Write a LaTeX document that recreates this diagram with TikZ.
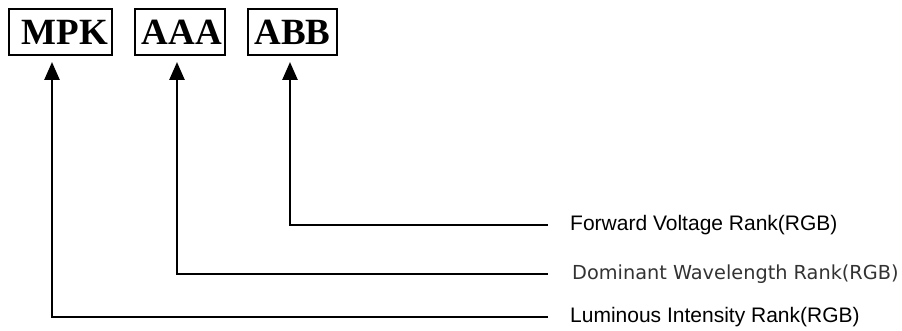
\documentclass[tikz,border=0pt]{standalone}
\usepackage{fontspec}
\setmainfont{Liberation Serif}
\setsansfont{Liberation Sans}
\newfontfamily\dejavu{DejaVu Sans}
\usetikzlibrary{arrows.meta}

\tikzset{
    rankbox/.style={draw, line width=2pt, minimum height=46pt, inner sep=0pt,
        font=\fontsize{37}{37}\selectfont\bfseries},
    ranklabel/.style={anchor=west, inner sep=0pt, font=\sffamily\fontsize{21}{21}\selectfont},
    rankarrow/.style={line width=2.6pt, -{Triangle[width=15pt,length=18pt]}}
}

\begin{document}
\begin{tikzpicture}[x=1pt, y=-1pt]

    \useasboundingbox (0,0) rectangle (902,331);

    \node[rankbox, minimum width=103pt] (mpk) at (60,32) {\hspace{10pt}MPK};
    \node[rankbox, minimum width=90pt] (aaa) at (180,32) {\hspace{4pt}AAA};
    \node[rankbox, minimum width=89pt] (abb) at (292.5,32) {ABB};

    \node[ranklabel] (fwd) at (570,225) {Forward Voltage Rank(RGB)};
    \node[ranklabel, font=\dejavu\fontsize{19.3}{19.3}\selectfont, text=black!80] (dom) at (572,274) {Dominant Wavelength Rank(RGB)};
    \node[ranklabel] (lum) at (570,317) {Luminous Intensity Rank(RGB)};

    \coordinate (abbtip) at ([xshift=-2.5pt,yshift=-6pt]abb.south);
    \coordinate (aaatip) at ([xshift=-3pt,yshift=-6pt]aaa.south);
    \coordinate (mpktip) at ([xshift=-8pt,yshift=-6pt]mpk.south);

    \draw[rankarrow] ([xshift=-22pt]fwd.west) -| (abbtip);
    \draw[rankarrow] ([xshift=-24pt]dom.west) -| (aaatip);
    \draw[rankarrow] ([xshift=-22pt]lum.west) -| (mpktip);

\end{tikzpicture}
\end{document}
